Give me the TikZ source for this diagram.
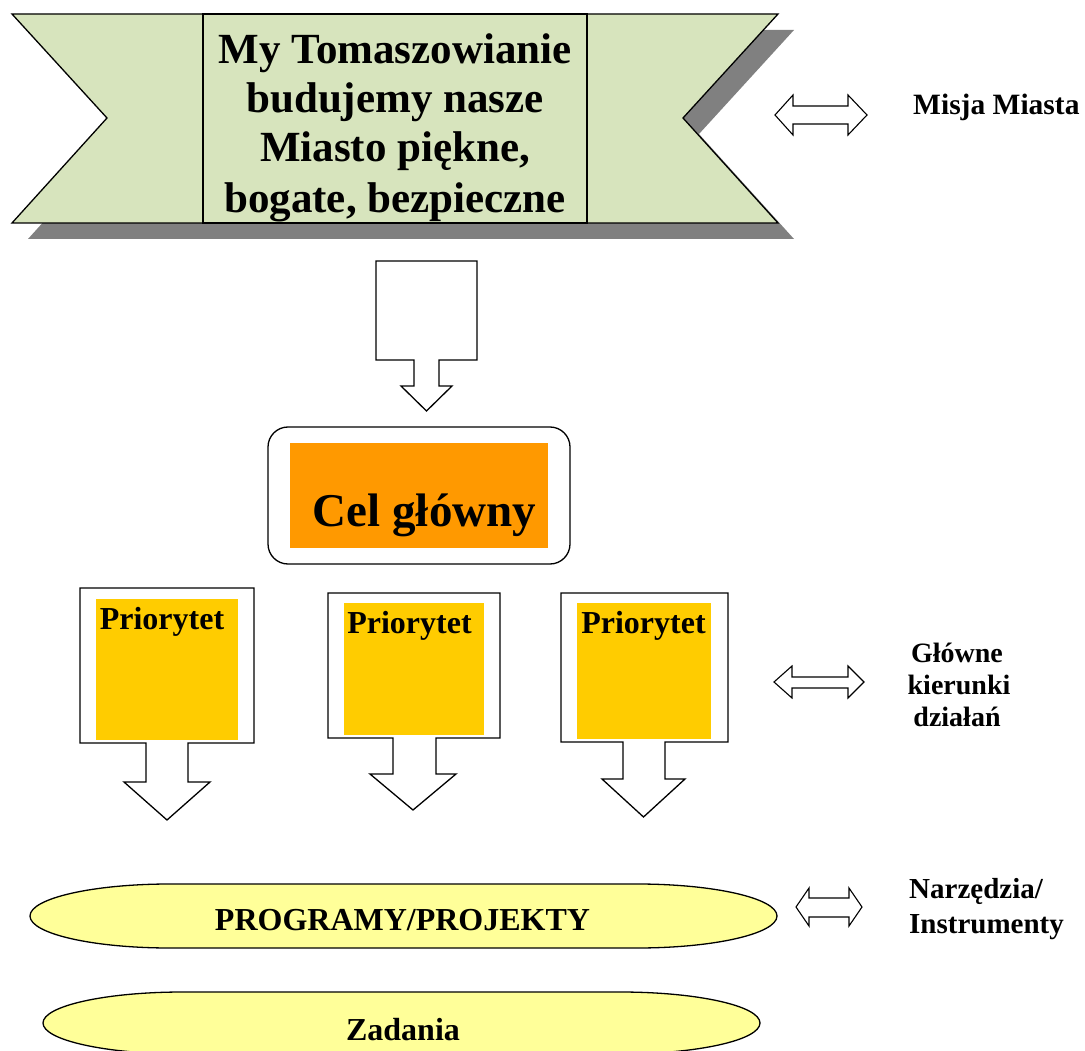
\documentclass[tikz,border=0pt]{standalone}
\usepackage{fontspec}
\setmainfont{Liberation Serif}
\definecolor{bannergreen}{HTML}{D7E4BD}
\definecolor{shadowgray}{HTML}{808080}
\definecolor{celorange}{HTML}{FF9900}
\definecolor{prioyellow}{HTML}{FFCC00}
\definecolor{ellyellow}{HTML}{FFFF99}
\tikzset{
  outl/.style={draw=black, line width=1.3pt, line join=miter},
  blockarrow/.style={outl, fill=white},
  dblarrow/.style={draw=black, line width=1.1pt, line join=miter, fill=white},
  pill/.style={outl, fill=ellyellow},
  txt/.style={inner sep=0pt, anchor=base, font=\bfseries\fontsize{#1}{#1}\selectfont},
  txtw/.style={txt=#1, anchor=base west}
}
\begin{document}
\begin{tikzpicture}[x=1pt, y=-1pt]
\clip (0,0) rectangle (1085,1051);
\fill[white] (0,0) rectangle (1085,1051);

% banner shadow
\fill[shadowgray] (28,30) -- (794,30) -- (699,134) -- (794,239) -- (28,239) -- (123,134) -- cycle;
% banner
\path[outl, fill=bannergreen] (12,14) -- (778,14) -- (683,118) -- (778,223) -- (12,223) -- (107,118) -- cycle;
\node[outl, fill=bannergreen, minimum width=384pt, minimum height=209pt, inner sep=0pt] (banner) at (395,118.5) {};
\begin{scope}
  \clip (203,14) rectangle (587,222.5);
  \node[txt=43] (b1) at (395,64) {My Tomaszowianie};
  \node[txt=43] (b2) at (395,113) {budujemy nasze};
  \node[txt=43] (b3) at (395,162) {Miasto piękne,};
  \node[txt=43] (b4) at (395,213) {bogate, bezpieczne};
\end{scope}

% Misja arrow
\path[dblarrow] (775,115) -- (793,95) -- (793,106) -- (848,106) -- (848,95) -- (867,115) -- (848,135) -- (848,124) -- (793,124) -- (793,135) -- cycle;
\node[txtw=29.5] (misja) at (913,115) {Misja Miasta};

% top down arrow
\path[blockarrow] (376,261) -- (477,261) -- (477,360) -- (439,360) -- (439,386) -- (452,386) -- (426.5,411) -- (401,386) -- (414,386) -- (414,360) -- (376,360) -- cycle;

% Cel glowny
\draw[outl, fill=white, rounded corners=20pt] (268,427) rectangle (570,564);
\fill[celorange] (290,443) rectangle (548,548);
\node[txt=47] (cel) at (424.5,526) {Cel główny};

% Priorities
\path[blockarrow] (80,588) -- (254,588) -- (254,743) -- (188,743) -- (188,782) -- (210,782) -- (167,820) -- (124,782) -- (146,782) -- (146,743) -- (80,743) -- cycle;
\fill[prioyellow] (96,599) rectangle (238,740);
\node[txt=32] (p1) at (162,629) {Priorytet};

\path[blockarrow] (328,593) -- (500,593) -- (500,738) -- (436,738) -- (436,774) -- (456,774) -- (413,810) -- (370,774) -- (393,774) -- (393,738) -- (328,738) -- cycle;
\fill[prioyellow] (344,603) rectangle (484,735);
\node[txt=32] (p2) at (409.5,633) {Priorytet};

\path[blockarrow] (561,593) -- (728,593) -- (728,742) -- (665,742) -- (665,779) -- (685,779) -- (643.5,817) -- (602,779) -- (623,779) -- (623,742) -- (561,742) -- cycle;
\fill[prioyellow] (577,603) rectangle (711,739);
\node[txt=32] (p3) at (643.5,633) {Priorytet};

% Glowne arrow
\path[dblarrow] (774,682) -- (792,666) -- (792,677) -- (848,677) -- (848,666) -- (864,682) -- (848,698) -- (848,688) -- (792,688) -- (792,698) -- cycle;
\node[txt=28] (g1) at (957,662) {Główne};
\node[txt=28] (g2) at (959,694) {kierunki};
\node[txt=28] (g3) at (957,726) {działań};

% Programy pill
\path[pill] (170,884) -- (637,884) arc[start angle=-90, end angle=90, x radius=140, y radius=32]
  -- (170,948) arc[start angle=90, end angle=270, x radius=140, y radius=32] -- cycle;
\node[txt=32] (prog) at (402.5,930) {PROGRAMY/PROJEKTY};

% Narzedzia arrow
\path[dblarrow] (796,907) -- (809,888) -- (809,898) -- (849,898) -- (849,888) -- (862,907) -- (849,926) -- (849,917) -- (809,917) -- (809,926) -- cycle;
\node[txtw=29] (n1) at (909,898) {Narzędzia/};
\node[txtw=29] (n2) at (909,933) {Instrumenty};

% Zadania pill
\path[pill] (183,992) -- (620,992) arc[start angle=-90, end angle=90, x radius=140, y radius=31]
  -- (183,1054) arc[start angle=90, end angle=270, x radius=140, y radius=31] -- cycle;
\node[txt=32] (zad) at (403,1040) {Zadania};
\end{tikzpicture}
\end{document}
